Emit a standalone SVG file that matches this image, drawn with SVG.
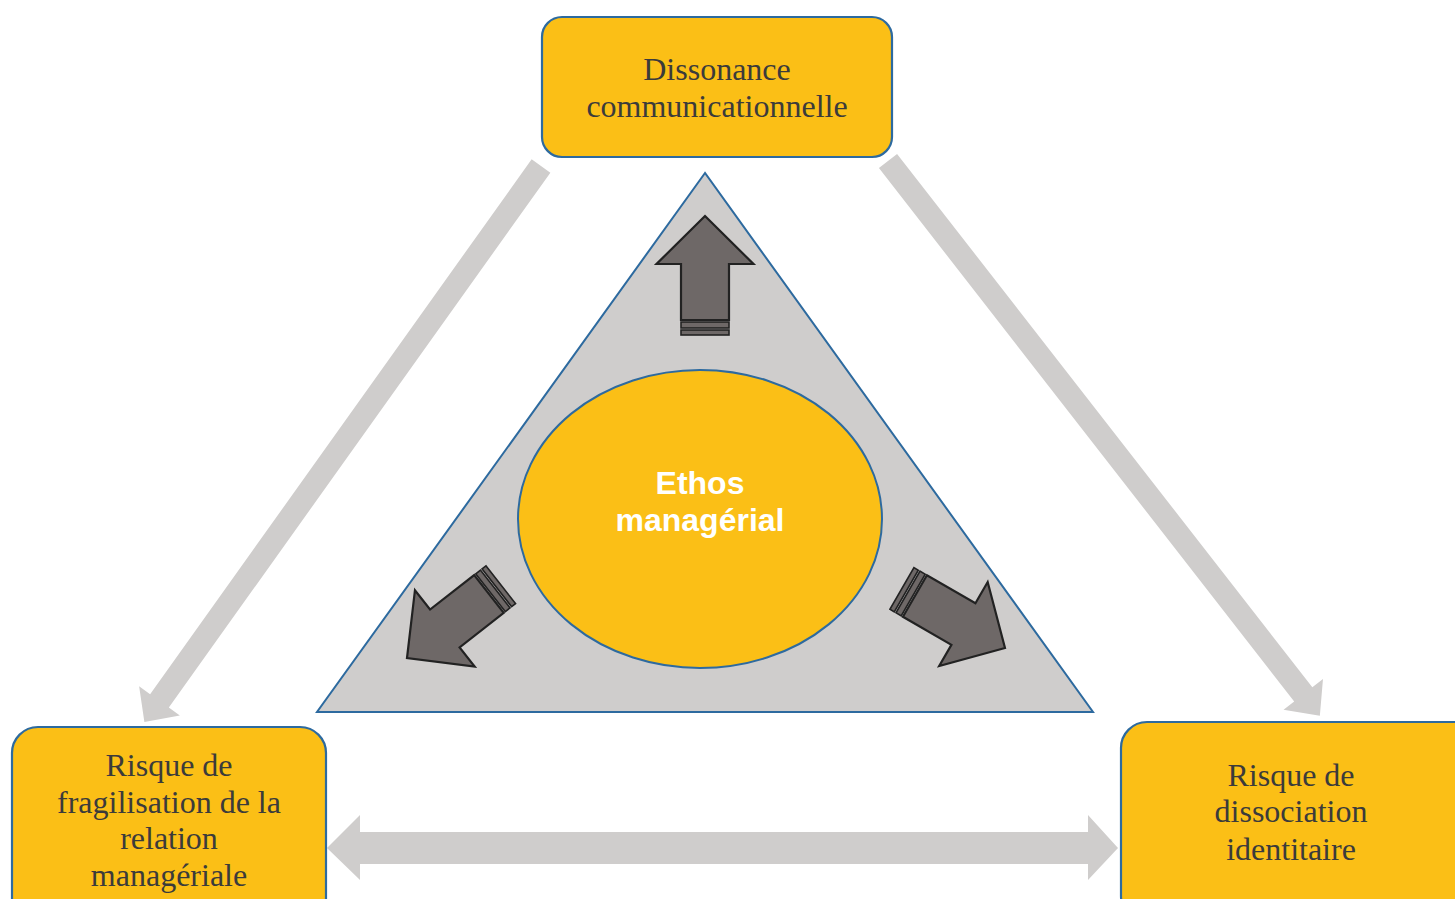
<svg xmlns="http://www.w3.org/2000/svg" width="1455" height="899" viewBox="0 0 1455 899">
<style>
.box{fill:#fbbf16;stroke:#2d6a9f;stroke-width:2.2}
.lbl{font-family:"Liberation Serif",serif;font-size:32px;fill:#3b3b3b;text-anchor:middle}
.gray{fill:#cfcdcc}
.darr{fill:#6e6867;stroke:#222;stroke-width:2.2;stroke-linejoin:miter}
.stripe{fill:#6e6867;stroke:#222;stroke-width:1.6}
</style>
<defs>
<g id="bigArrow">
<path class="darr" d="M0,0 L48.5,48 L24,48 L24,104 L-24,104 L-24,48 L-48.5,48 Z"/>
<rect class="stripe" x="-24" y="106" width="48" height="6"/>
<rect class="stripe" x="-24" y="114" width="48" height="5"/>
</g>
</defs>
<rect width="1455" height="899" fill="#ffffff"/>
<g id="connectors">
<polygon class="gray" transform="translate(541,166) rotate(125.5)" points="0,-11.5 657,-11.5 657,-25 683,0 657,25 657,11.5 0,11.5"/>
<polygon class="gray" transform="translate(888,161) rotate(52.1)" points="0,-11.5 676,-11.5 676,-25 703,0 676,25 676,11.5 0,11.5"/>
<polygon class="gray" points="327,848 360,815 360,832 1088,832 1088,815 1118,848 1088,880 1088,864 360,864 360,880"/>
</g>
<g id="triangle">
<polygon points="705,173 317,712 1093,712" fill="#cfcdcc" stroke="#2d6a9f" stroke-width="2"/>
</g>
<g id="arrows">
<use href="#bigArrow" transform="translate(705,216)"/>
<use href="#bigArrow" transform="translate(407,658) rotate(-128)"/>
<use href="#bigArrow" transform="translate(1005,648) rotate(120)"/>
</g>
<g id="ethos">
<ellipse cx="700" cy="519" rx="182" ry="149" fill="#fbbf16" stroke="#2d6a9f" stroke-width="2"/>
<text x="700" y="494" font-family="Liberation Sans,Arial,sans-serif" font-weight="bold" font-size="32" fill="#ffffff" text-anchor="middle">Ethos</text>
<text x="700" y="531" font-family="Liberation Sans,Arial,sans-serif" font-weight="bold" font-size="32" fill="#ffffff" text-anchor="middle">managérial</text>
</g>
<g id="dissonance">
<rect class="box" x="542" y="17" width="350" height="140" rx="20"/>
<text class="lbl" x="717" y="80">Dissonance</text>
<text class="lbl" x="717" y="117">communicationnelle</text>
</g>
<g id="fragilisation">
<rect class="box" x="12" y="727" width="314" height="200" rx="26"/>
<text class="lbl" x="169" y="776">Risque de</text>
<text class="lbl" x="169" y="813">fragilisation de la</text>
<text class="lbl" x="169" y="849">relation</text>
<text class="lbl" x="169" y="886">managériale</text>
</g>
<g id="dissociation">
<rect class="box" x="1121" y="722" width="360" height="200" rx="26"/>
<text class="lbl" x="1291" y="786">Risque de</text>
<text class="lbl" x="1291" y="822">dissociation</text>
<text class="lbl" x="1291" y="860">identitaire</text>
</g>
</svg>
